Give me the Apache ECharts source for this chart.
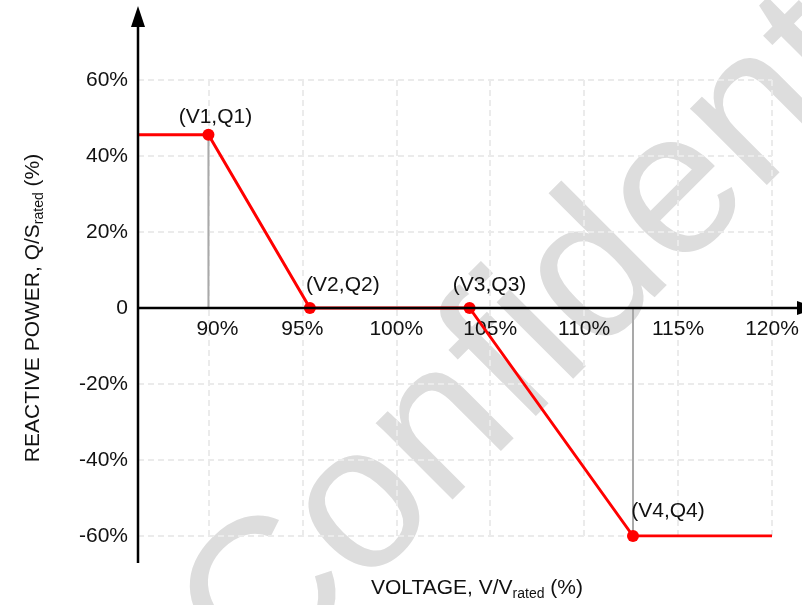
<!DOCTYPE html>
<html>
<head>
<meta charset="utf-8">
<script src="https://cdn.jsdelivr.net/npm/echarts@6/dist/echarts.min.js"></script>
<style>
  html, body { margin: 0; padding: 0; background: #fff; }
  #chart { width: 802px; height: 605px; }
</style>
</head>
<body>
<div id="chart"></div>
<script>
// ---- data ----
const voltage   = [86.25, 90, 95.4, 103.9, 112.6, 120];   // V/Vrated (%)
const reactive  = [45.6, 45.6, 0, 0, -60, -60];          // Q/Srated (%)
const pointLabels = ['', '(V1,Q1)', '(V2,Q2)', '(V3,Q3)', '(V4,Q4)', ''];
const dropIndex = [1, 4];                                // points with a drop line to Q = 0
const xTickValues = [90, 95, 100, 105, 110, 115, 120];
const yTickValues = [-60, -40, -20, 0, 20, 40, 60];

const FONT = 'Liberation Sans, Arial, Helvetica, sans-serif';
const labelOffsets = [null, [7, -18], [33, -23], [20, -23], [35, -25], null];

const chart = echarts.init(document.getElementById('chart'), null, { renderer: 'canvas' });

const mainData = voltage.map((v, i) => {
  const item = { value: [v, reactive[i]] };
  if (!pointLabels[i]) {
    item.symbol = 'none';
    item.label = { show: false };
  } else {
    item.label = { show: true, position: 'inside', offset: labelOffsets[i] };
  }
  return item;
});

const dropSeries = dropIndex.map(i => ({
  type: 'line',
  data: [[voltage[i], reactive[i]], [voltage[i], 0]],
  symbol: 'none',
  silent: true,
  z: 1,
  lineStyle: { color: '#a9a9a9', width: 2 },
  animation: false
}));

const gridLine = { show: true, lineStyle: { color: '#ebebeb', width: 2, type: [6, 4] } };

const option = {
  animation: false,
  backgroundColor: '#ffffff',
  grid: { left: 138, right: 30, top: 80, bottom: 69, containLabel: false },
  xAxis: {
    type: 'value',
    position: 'bottom',
    offset: 0,
    min: 86.25,
    max: 120,
    minInterval: 5,
    maxInterval: 5,
    axisLine: { show: false, onZero: false },
    axisTick: { show: false },
    axisLabel: {
      margin: 11,
      fontSize: 21,
      fontFamily: FONT,
      color: '#111',
      formatter: function (v) {
        if (xTickValues.indexOf(v) < 0) return '';
        if (v === 90) return '{p|' + v + '%}';
        return v + '%';
      },
      rich: { p: { fontSize: 21, fontFamily: FONT, color: '#111', padding: [0, 0, 0, 18] } }
    },
    splitLine: gridLine
  },
  yAxis: {
    type: 'value',
    min: -60,
    max: 60,
    interval: 20,
    axisLine: { show: false },
    axisTick: { show: false },
    axisLabel: {
      margin: 10,
      fontSize: 21,
      fontFamily: FONT,
      color: '#111',
      formatter: function (v) {
        if (yTickValues.indexOf(v) < 0) return '';
        return v === 0 ? '0' : v + '%';
      }
    },
    splitLine: gridLine
  },
  series: dropSeries.concat([{
    type: 'line',
    data: mainData,
    z: 3,
    symbol: 'circle',
    symbolSize: 12,
    lineStyle: { color: '#ff0000', width: 3 },
    itemStyle: { color: '#ff0000' },
    label: {
      show: true,
      fontSize: 21,
      fontFamily: FONT,
      color: '#111',
      formatter: function (p) { return pointLabels[p.dataIndex]; }
    }
  }])
};

chart.setOption(option);

// move the x axis (labels) up to the Q = 0 line
const origin = chart.convertToPixel({ gridIndex: 0 }, [voltage[0], 0]);
const bottomPt = chart.convertToPixel({ gridIndex: 0 }, [voltage[0], -60]);
const x0 = Math.round(origin[0]);
const y0 = Math.round(origin[1]);
const yBottom = bottomPt[1] + 27;

chart.setOption({
  xAxis: { offset: -(bottomPt[1] - origin[1]) },
  graphic: [
    {
      type: 'text',
      z: -10,
      silent: true,
      x: 600, y: 272,
      rotation: Math.PI / 4,
      style: {
        text: 'Confidential',
        fontSize: 205,
        fontFamily: FONT,
        fill: '#dddddd',
        align: 'center',
        verticalAlign: 'middle'
      }
    },
    {
      type: 'line', z: 50, silent: true,
      shape: { x1: x0, y1: yBottom, x2: x0, y2: 26 },
      style: { stroke: '#000', lineWidth: 2.5 }
    },
    {
      type: 'polygon', z: 50, silent: true,
      shape: { points: [[x0, 6], [x0 - 7, 27], [x0 + 7, 27]] },
      style: { fill: '#000' }
    },
    {
      type: 'line', z: 50, silent: true,
      shape: { x1: x0, y1: y0, x2: 798, y2: y0 },
      style: { stroke: '#000', lineWidth: 2.5 }
    },
    {
      type: 'polygon', z: 50, silent: true,
      shape: { points: [[817, y0], [797, y0 - 7], [797, y0 + 7]] },
      style: { fill: '#000' }
    },
    {
      type: 'text', z: 50, silent: true,
      x: 477, y: 588,
      style: {
        text: '{a|VOLTAGE, V/V}{b|rated}{a| (%)}',
        align: 'center',
        verticalAlign: 'middle',
        rich: {
          a: { fontSize: 21, fontFamily: FONT, fill: '#111', lineHeight: 26 },
          b: { fontSize: 14, fontFamily: FONT, fill: '#111', lineHeight: 14, verticalAlign: 'bottom' }
        }
      }
    },
    {
      type: 'text', z: 50, silent: true,
      x: 33, y: 308,
      rotation: Math.PI / 2,
      style: {
        text: '{a|REACTIVE POWER, Q/S}{b|rated}{a| (%)}',
        align: 'center',
        verticalAlign: 'middle',
        rich: {
          a: { fontSize: 21, fontFamily: FONT, fill: '#111', lineHeight: 26 },
          b: { fontSize: 14, fontFamily: FONT, fill: '#111', lineHeight: 14, verticalAlign: 'bottom' }
        }
      }
    }
  ]
});
</script>
</body>
</html>
